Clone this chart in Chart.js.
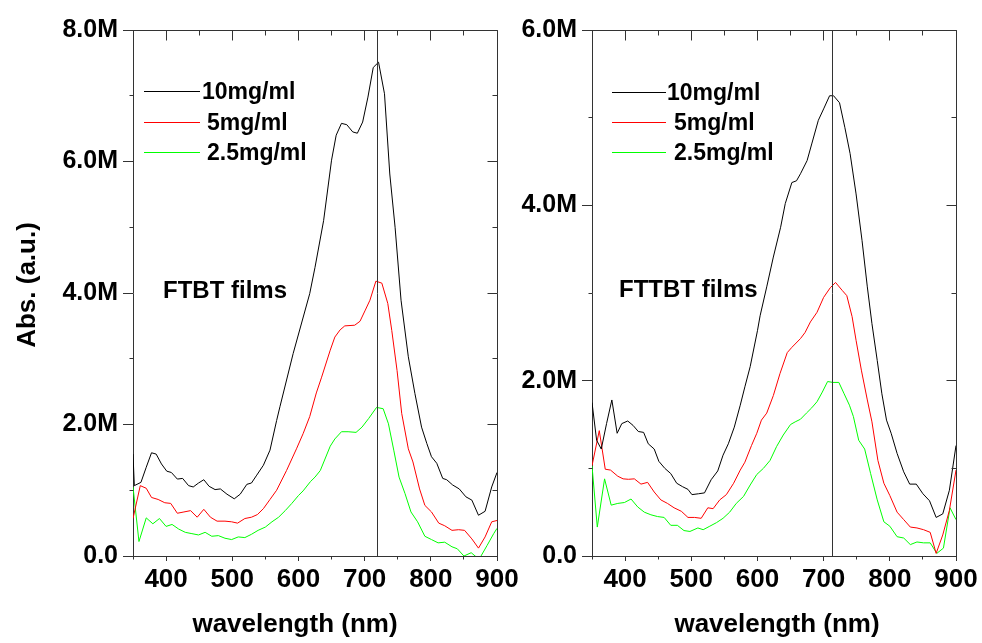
<!DOCTYPE html>
<html>
<head>
<meta charset="utf-8">
<script src="https://cdn.jsdelivr.net/npm/chart.js@4/dist/chart.umd.min.js"></script>
<style>
  html, body { margin: 0; padding: 0; background: #fff; }
  body { width: 982px; height: 643px; position: relative; overflow: hidden; }
  canvas { position: absolute; top: 0; }
  #left { left: 0; }
  #right { left: 500px; }
</style>
</head>
<body>
<canvas id="left" width="525" height="643"></canvas>
<canvas id="right" width="482" height="643"></canvas>
<script>
// legend / series
var seriesLabels = ['10mg/ml', '5mg/ml', '2.5mg/ml'];
var seriesColors = ['#000000', '#ff0000', '#00ff00'];

// tick labels
var xTicks = [400, 500, 600, 700, 800, 900];
var ftbtYTicks = [0, 2, 4, 6, 8];
var fttbtYTicks = [0, 2, 4, 6];

// FTBT films (values in millions)
var ftbtWave10 = [350,352,362,370,378,385,393,401,408,417,425,434,441,449,457,465,474,482,492,503,512,522,529,537,547,557,567,572,592,617,625,638,650,657,665,673,682,689,697,705,713,721,730,738,746,755,766,776,786,794,801,809,818,824,833,843,853,862,872,882,892,900];
var ftbtAbs10 = [1.55,1.07,1.12,1.35,1.57,1.55,1.40,1.29,1.27,1.17,1.18,1.07,1.05,1.11,1.16,1.06,1.01,1.02,0.94,0.87,0.94,1.09,1.11,1.23,1.38,1.61,2.06,2.27,3.08,3.99,4.39,5.10,6.02,6.40,6.58,6.56,6.45,6.43,6.60,6.98,7.43,7.51,7.03,5.81,5.00,3.89,3.03,2.47,1.96,1.71,1.51,1.41,1.18,1.16,1.08,1.02,0.90,0.85,0.62,0.68,1.05,1.27];

var ftbtWave5 = [350,361,370,378,388,398,407,417,427,437,447,457,467,477,489,499,508,519,529,538,547,557,567,582,597,607,617,627,635,648,655,663,670,685,693,701,708,717,726,735,741,749,756,766,773,783,791,801,812,821,832,842,851,862,872,882,892,900];
var ftbtAbs5 = [0.57,1.07,1.03,0.89,0.86,0.81,0.80,0.65,0.67,0.69,0.59,0.71,0.59,0.53,0.53,0.52,0.50,0.57,0.59,0.63,0.72,0.86,1.00,1.30,1.63,1.86,2.12,2.48,2.72,3.13,3.33,3.44,3.50,3.51,3.57,3.74,3.89,4.18,4.15,3.84,3.43,2.82,2.17,1.63,1.43,1.02,0.77,0.67,0.50,0.46,0.39,0.40,0.39,0.26,0.12,0.29,0.52,0.54];

var ftbtWave25 = [350,359,370,380,390,400,409,419,429,439,449,459,469,479,489,499,509,519,529,539,550,560,570,580,590,600,607,618,625,633,648,655,665,675,687,696,706,718,728,736,744,752,761,770,780,791,801,811,821,832,840,850,861,873,885,895,900];
var ftbtAbs25 = [1.05,0.22,0.58,0.49,0.57,0.45,0.48,0.41,0.36,0.34,0.32,0.36,0.30,0.31,0.27,0.25,0.29,0.28,0.33,0.39,0.44,0.52,0.59,0.69,0.80,0.92,0.99,1.13,1.20,1.30,1.67,1.78,1.89,1.89,1.88,1.96,2.09,2.26,2.24,2.01,1.61,1.20,0.95,0.67,0.52,0.30,0.25,0.20,0.21,0.14,0.11,0.00,0.05,-0.05,0.16,0.34,0.42];

// FTTBT films (values in millions)
var fttbtWave10 = [350,357,364,372,380,388,395,404,412,420,428,435,444,451,460,469,478,487,495,501,511,520,530,540,548,556,565,574,581,589,600,604,614,624,635,642,652,659,665,675,682,692,700,709,715,724,732,740,749,758,766,773,781,788,795,802,811,821,830,840,850,860,870,880,890,900];
var fttbtAbs10 = [1.75,1.32,1.22,1.51,1.78,1.40,1.51,1.54,1.49,1.42,1.41,1.28,1.22,1.08,1.00,0.94,0.83,0.79,0.76,0.70,0.71,0.72,0.87,0.97,1.15,1.28,1.47,1.72,1.93,2.16,2.57,2.74,3.07,3.41,3.75,4.02,4.26,4.28,4.36,4.51,4.70,4.97,5.10,5.25,5.25,5.17,4.89,4.59,4.13,3.60,3.07,2.65,2.23,1.85,1.55,1.40,1.17,0.96,0.82,0.82,0.71,0.63,0.44,0.48,0.75,1.26];

var fttbtWave5 = [350,361,370,378,389,397,405,414,424,434,444,454,464,474,485,495,505,515,525,533,543,553,564,574,581,591,599,606,614,624,634,645,652,665,672,680,690,700,710,718,728,735,743,749,757,766,773,782,791,800,811,821,831,841,851,861,870,880,890,900];
var fttbtAbs5 = [1.03,1.43,0.99,0.98,0.91,0.88,0.875,0.88,0.82,0.84,0.73,0.64,0.60,0.55,0.51,0.44,0.44,0.43,0.55,0.54,0.64,0.70,0.83,0.98,1.07,1.26,1.40,1.55,1.63,1.83,2.08,2.32,2.38,2.48,2.55,2.67,2.78,2.95,3.06,3.12,3.03,2.97,2.73,2.46,2.12,1.78,1.53,1.09,0.83,0.69,0.50,0.415,0.33,0.32,0.30,0.27,0.03,0.24,0.52,0.98];

var fttbtWave25 = [350,358,369,379,389,399,409,419,429,439,449,459,469,479,489,498,510,518,528,538,548,558,568,579,589,599,609,619,629,639,650,657,665,674,682,690,698,706,714,723,731,739,745,753,762,771,781,791,800,811,821,831,841,851,861,871,881,891,900];
var fttbtAbs25 = [1.03,0.33,0.88,0.58,0.60,0.61,0.65,0.56,0.50,0.47,0.45,0.44,0.35,0.35,0.29,0.28,0.32,0.30,0.34,0.38,0.43,0.50,0.60,0.68,0.81,0.93,1.00,1.09,1.25,1.38,1.50,1.53,1.56,1.63,1.69,1.76,1.87,1.99,1.98,1.98,1.85,1.72,1.59,1.32,1.22,0.94,0.64,0.39,0.34,0.22,0.205,0.13,0.16,0.15,0.15,0.03,0.09,0.55,0.415];

var fontFamily = '"Liberation Sans", Arial, sans-serif';

function align(p) {
    return Math.round(p - 0.5) + 0.5;
}

// frame, minor ticks, marker line, legend and labels
var framePlugin = {
    id: 'frame',
    afterDraw: function (chart) {
        var o = chart.options.plugins.frame;
        var ctx = chart.ctx;
        var a = chart.chartArea;
        var x = chart.scales.x;
        var y = chart.scales.y;
        var L = align(a.left), R = align(a.right), T = align(a.top), B = align(a.bottom);

        ctx.save();
        ctx.strokeStyle = '#333';
        ctx.lineWidth = 1;
        ctx.setLineDash([]);
        ctx.beginPath();
        // top and right border
        ctx.moveTo(L, T); ctx.lineTo(R, T); ctx.lineTo(R, B);

        // x ticks: top inward, bottom minor outward
        for (var w = 350; w <= 900; w += 50) {
            var px = align(x.getPixelForValue(w));
            var major = w % 100 === 0;
            ctx.moveTo(px, T); ctx.lineTo(px, T + (major ? 10 : 5));
            if (!major) { ctx.moveTo(px, B); ctx.lineTo(px, B + 3); }
        }
        // y ticks: right inward, left minor outward
        for (var v = 0; v <= o.yMax; v += 1) {
            var py = align(y.getPixelForValue(v));
            var maj = v % 2 === 0;
            ctx.moveTo(R, py); ctx.lineTo(R - (maj ? 10 : 5), py);
            if (!maj) { ctx.moveTo(L, py); ctx.lineTo(L - 4, py); }
        }
        // peak marker
        var mx = align(x.getPixelForValue(o.marker));
        ctx.moveTo(mx, T); ctx.lineTo(mx, B);
        ctx.stroke();

        // legend
        ctx.font = 'bold 23px ' + fontFamily;
        ctx.textBaseline = 'alphabetic';
        ctx.textAlign = 'left';
        seriesLabels.forEach(function (label, i) {
            ctx.fillStyle = seriesColors[i];
            ctx.fillRect(o.legendLine[0], o.legendRows[i], o.legendLine[1] - o.legendLine[0], 1);
            ctx.fillStyle = '#000';
            ctx.fillText(label, o.legendText[i], o.legendRows[i] + 8);
        });

        // film name
        ctx.font = 'bold 24px ' + fontFamily;
        ctx.fillText(o.film, o.filmPos[0], o.filmPos[1]);

        // axis titles
        ctx.font = 'bold 26px ' + fontFamily;
        ctx.textAlign = 'center';
        ctx.textBaseline = 'middle';
        ctx.fillText('wavelength (nm)', o.xTitleX, 625);
        if (o.yTitle) {
            ctx.translate(28, 285);
            ctx.rotate(-Math.PI / 2);
            ctx.fillText(o.yTitle, 0, 0);
        }
        ctx.restore();
    }
};

function drawPanel(id, series, yTicks, p) {
    new Chart(document.getElementById(id), {
        type: 'line',
        data: {
            datasets: series.map(function (s, i) {
                return {
                    label: seriesLabels[i],
                    data: s[0].map(function (w, k) { return { x: w, y: s[1][k] }; }),
                    borderColor: seriesColors[i],
                    borderWidth: 1,
                    pointRadius: 0,
                    tension: 0,
                    fill: false
                };
            })
        },
        options: {
            responsive: false,
            animation: false,
            devicePixelRatio: 1,
            layout: { padding: { left: 0, top: 30, right: p.padRight, bottom: 0 } },
            plugins: {
                legend: { display: false },
                tooltip: { enabled: false },
                frame: p
            },
            scales: {
                x: {
                    type: 'linear',
                    min: 350,
                    max: 900,
                    afterBuildTicks: function (s) { s.ticks = xTicks.map(function (v) { return { value: v }; }); },
                    afterFit: function (s) { s.height = 87; },
                    ticks: {
                        color: '#000',
                        padding: 3,
                        maxRotation: 0,
                        font: { family: fontFamily, size: 26, weight: 'bold' }
                    },
                    grid: { drawOnChartArea: false, tickLength: 5, color: '#333' },
                    border: { color: '#333' }
                },
                y: {
                    min: 0,
                    max: p.yMax,
                    afterBuildTicks: function (s) { s.ticks = yTicks.map(function (v) { return { value: v }; }); },
                    afterFit: function (s) { s.width = p.yWidth; },
                    ticks: {
                        color: '#000',
                        padding: 5,
                        font: { family: fontFamily, size: 25, weight: 'bold' },
                        callback: function (v) { return v === 0 ? '0.0' : v.toFixed(1) + 'M'; }
                    },
                    grid: { drawOnChartArea: false, tickLength: 10, color: '#333' },
                    border: { color: '#333' }
                }
            }
        },
        plugins: [framePlugin]
    });
}

drawPanel('left', [[ftbtWave10, ftbtAbs10], [ftbtWave5, ftbtAbs5], [ftbtWave25, ftbtAbs25]], ftbtYTicks, {
    yMax: 8, yWidth: 133, padRight: 28, marker: 719,
    legendLine: [144, 200], legendRows: [91, 122, 152], legendText: [202, 207, 207],
    film: 'FTBT films', filmPos: [163, 298], xTitleX: 295, yTitle: 'Abs. (a.u.)'
});

drawPanel('right', [[fttbtWave10, fttbtAbs10], [fttbtWave5, fttbtAbs5], [fttbtWave25, fttbtAbs25]], fttbtYTicks, {
    yMax: 6, yWidth: 92, padRight: 26, marker: 714,
    legendLine: [112, 166], legendRows: [92, 122, 152], legendText: [167, 174, 174],
    film: 'FTTBT films', filmPos: [119, 297], xTitleX: 277, yTitle: null
});
</script>
</body>
</html>
